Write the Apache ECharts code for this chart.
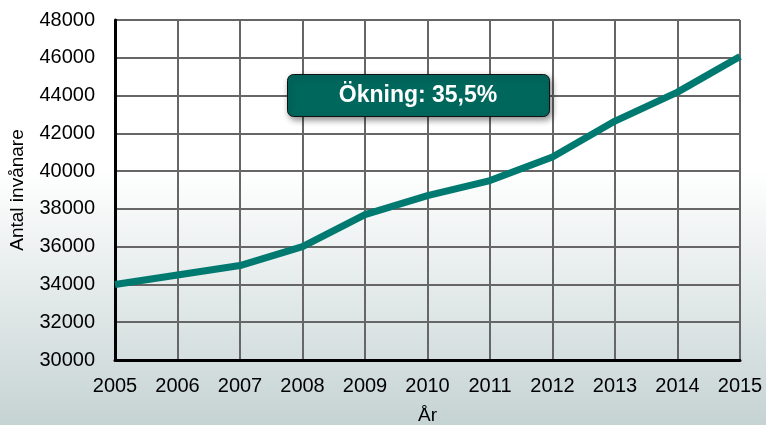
<!DOCTYPE html>
<html>
<head>
<meta charset="utf-8">
<script src="https://cdn.jsdelivr.net/npm/echarts@6/dist/echarts.min.js"></script>
<style>
	html, body { margin: 0; padding: 0; }
	#chart { width: 766px; height: 425px; }
</style>
</head>
<body>
<div id="chart"></div>
<script>
	var years = ["2005", "2006", "2007", "2008", "2009", "2010", "2011", "2012", "2013", "2014", "2015"];
	var invanare = [34000, 34500, 35000, 36000, 37700, 38700, 39500, 40750, 42650, 44180, 46070];
	var okningText = "Ökning: 35,5%";

	var chart = echarts.init(document.getElementById("chart"));
	chart.setOption({
		backgroundColor: {
			type: "linear", x: 0, y: 0, x2: 0, y2: 1,
			colorStops: [
				{ offset: 0, color: "#ffffff" },
				{ offset: 0.4, color: "#ffffff" },
				{ offset: 1, color: "#c6d3d3" }
			]
		},
		animation: false,
		grid: {
			left: 115,
			right: 26,
			top: 20,
			bottom: 65,
			containLabel: false,
			outerBoundsMode: "none",
			show: true,
			borderColor: "#999",
			borderWidth: 1
		},
		xAxis: {
			type: "category",
			data: years,
			boundaryGap: false,
			name: "År",
			nameLocation: "middle",
			nameGap: 46,
			nameTextStyle: { fontFamily: "Liberation Sans", fontSize: 19, color: "#000" },
			axisTick: { show: false },
			axisLabel: { fontFamily: "Liberation Sans", fontSize: 20, color: "#000", margin: 16 },
			axisLine: { lineStyle: { color: "#000", width: 3 } },
			splitLine: { show: true, lineStyle: { color: "#666", width: 2 } }
		},
		yAxis: {
			type: "value",
			min: 30000,
			max: 48000,
			interval: 2000,
			name: "Antal invånare",
			nameLocation: "middle",
			nameGap: 88,
			nameTextStyle: { fontFamily: "Liberation Sans", fontSize: 19, color: "#000" },
			axisTick: { show: false },
			axisLabel: {
				fontFamily: "Liberation Sans", fontSize: 20, color: "#000", margin: 20,
				formatter: function (v) { return String(v); }
			},
			axisLine: { show: true, lineStyle: { color: "#000", width: 3 } },
			splitLine: { show: true, lineStyle: { color: "#666", width: 2 } }
		},
		series: [
			{
				type: "line",
				data: invanare,
				symbol: "none",
				lineStyle: { color: "#007a70", width: 7 },
				z: 5
			}
		],
		graphic: [
			{
				type: "rect",
				left: 287,
				top: 74,
				z: 10,
				shape: { width: 262, height: 42, r: 6 },
				style: {
					fill: "#00675d",
					stroke: "#111",
					lineWidth: 1,
					shadowBlur: 6,
					shadowOffsetX: 2,
					shadowOffsetY: 3,
					shadowColor: "rgba(0,0,0,0.45)"
				}
			},
			{
				type: "text",
				x: 418,
				y: 96,
				z: 11,
				style: {
					text: okningText,
					fill: "#fff",
					font: "bold 23px 'Liberation Sans'",
					align: "center",
					verticalAlign: "middle",
					shadowBlur: 0,
					shadowColor: "transparent"
				}
			}
		]
	});
</script>
</body>
</html>
